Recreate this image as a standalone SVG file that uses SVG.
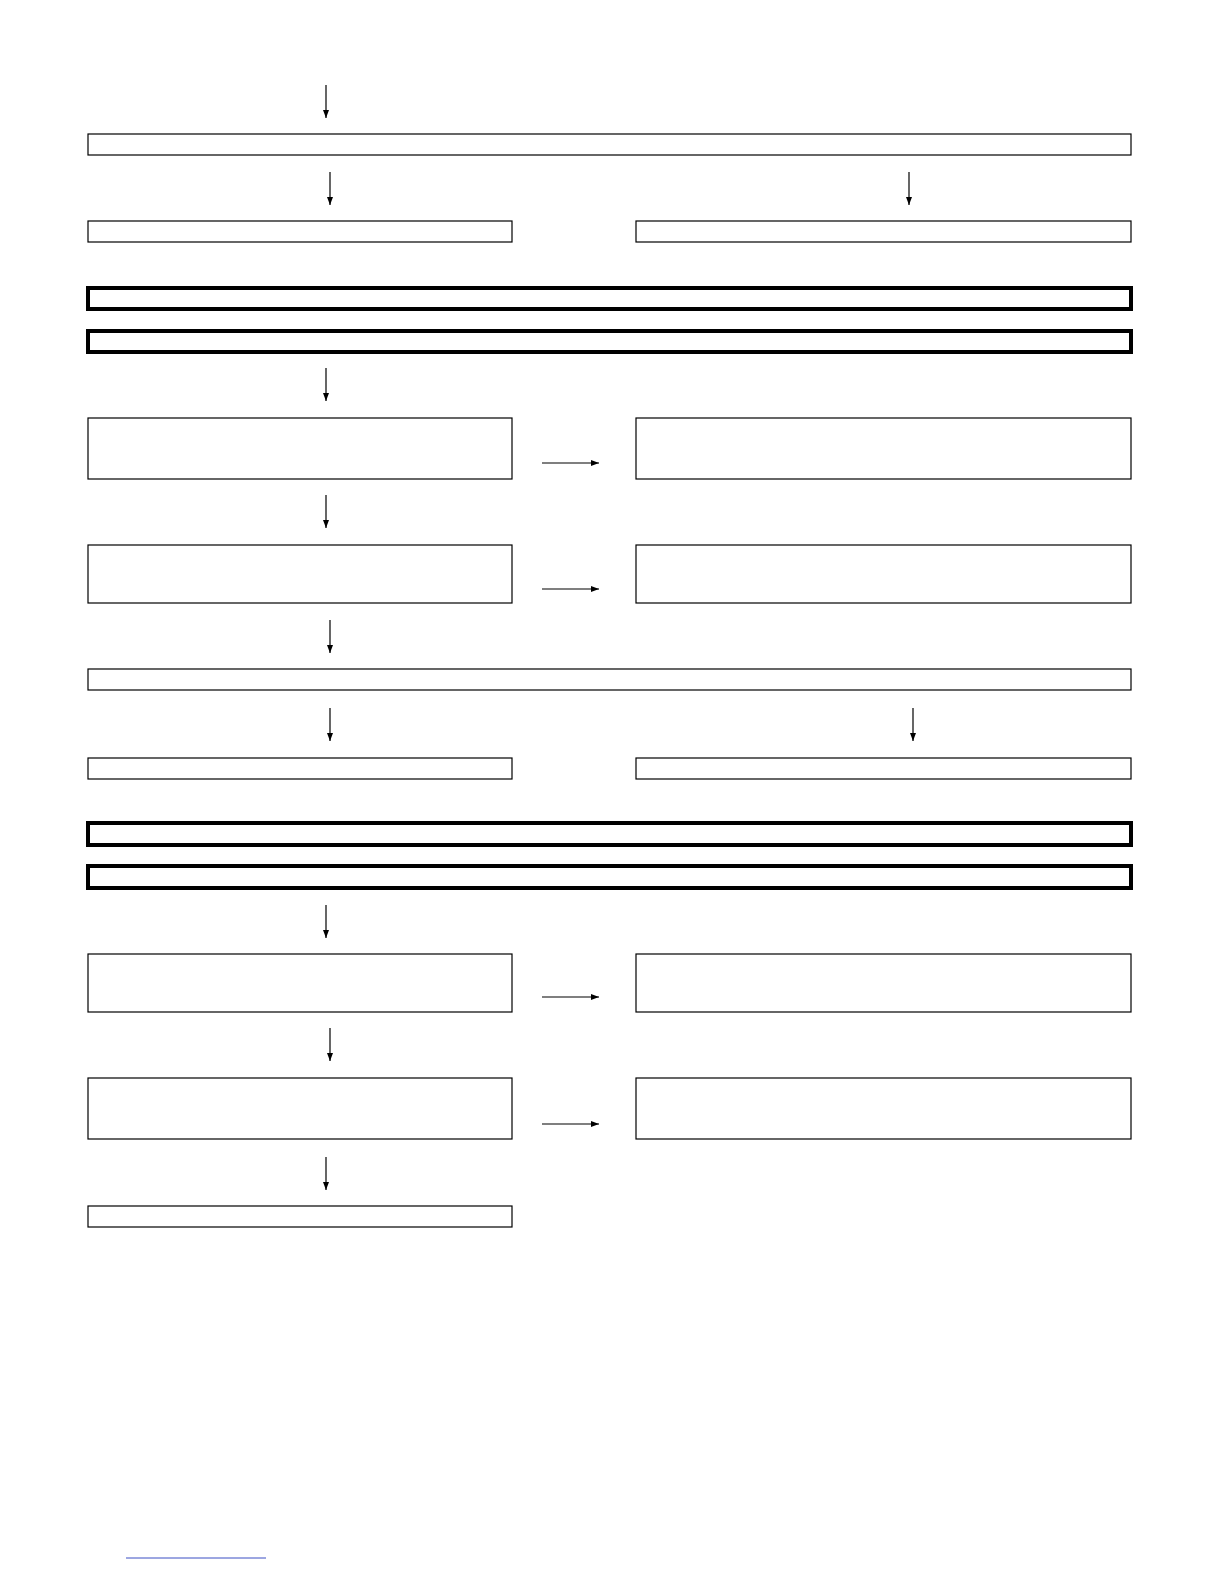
<svg xmlns="http://www.w3.org/2000/svg" width="1224" height="1584" viewBox="0 0 1224 1584">
<style>
.box{fill:#fff;stroke:#000;stroke-width:1.2}
.thick{fill:#fff;stroke:#000;stroke-width:4}
.conn{stroke:#000;stroke-width:1.2;fill:none;marker-end:url(#ah)}
</style>
<defs>
<marker id="ah" markerWidth="8" markerHeight="6" refX="8" refY="3" orient="auto" markerUnits="userSpaceOnUse">
<path d="M0,0 L8,3 L0,6 Z" fill="#000"/>
</marker>
</defs>
<rect width="1224" height="1584" fill="#fff"/>
<g id="nodes">
<g id="boxA"><rect class="box" x="88" y="134" width="1043" height="21"/></g>
<g id="boxB1"><rect class="box" x="88" y="221" width="424" height="21"/></g>
<g id="boxB2"><rect class="box" x="636" y="221" width="495" height="21"/></g>
<g id="boxC"><rect class="thick" x="88" y="288" width="1043" height="21"/></g>
<g id="boxD"><rect class="thick" x="88" y="331" width="1043" height="21"/></g>
<g id="boxE1"><rect class="box" x="88" y="418" width="424" height="61"/></g>
<g id="boxE2"><rect class="box" x="636" y="418" width="495" height="61"/></g>
<g id="boxF1"><rect class="box" x="88" y="545" width="424" height="58"/></g>
<g id="boxF2"><rect class="box" x="636" y="545" width="495" height="58"/></g>
<g id="boxG"><rect class="box" x="88" y="669" width="1043" height="21"/></g>
<g id="boxH1"><rect class="box" x="88" y="758" width="424" height="21"/></g>
<g id="boxH2"><rect class="box" x="636" y="758" width="495" height="21"/></g>
<g id="boxI"><rect class="thick" x="88" y="823" width="1043" height="22"/></g>
<g id="boxJ"><rect class="thick" x="88" y="866" width="1043" height="22"/></g>
<g id="boxK1"><rect class="box" x="88" y="954" width="424" height="58"/></g>
<g id="boxK2"><rect class="box" x="636" y="954" width="495" height="58"/></g>
<g id="boxL1"><rect class="box" x="88" y="1078" width="424" height="61"/></g>
<g id="boxL2"><rect class="box" x="636" y="1078" width="495" height="61"/></g>
<g id="boxM"><rect class="box" x="88" y="1206" width="424" height="21"/></g>
</g>
<g id="connectors">
<line class="conn" x1="326" y1="85" x2="326" y2="118"/>
<line class="conn" x1="330" y1="172" x2="330" y2="205"/>
<line class="conn" x1="909" y1="172" x2="909" y2="205"/>
<line class="conn" x1="326" y1="368" x2="326" y2="401"/>
<line class="conn" x1="542" y1="463" x2="599" y2="463"/>
<line class="conn" x1="326" y1="495" x2="326" y2="528"/>
<line class="conn" x1="542" y1="589" x2="599" y2="589"/>
<line class="conn" x1="330" y1="620" x2="330" y2="653"/>
<line class="conn" x1="330" y1="708" x2="330" y2="741"/>
<line class="conn" x1="913" y1="708" x2="913" y2="741"/>
<line class="conn" x1="326" y1="905" x2="326" y2="938"/>
<line class="conn" x1="542" y1="997" x2="599" y2="997"/>
<line class="conn" x1="330" y1="1028" x2="330" y2="1061"/>
<line class="conn" x1="542" y1="1124" x2="599" y2="1124"/>
<line class="conn" x1="326" y1="1157" x2="326" y2="1190"/>
</g>
<line x1="126" y1="1558" x2="266" y2="1558" stroke="#3b4fc4" stroke-width="1"/>
</svg>
